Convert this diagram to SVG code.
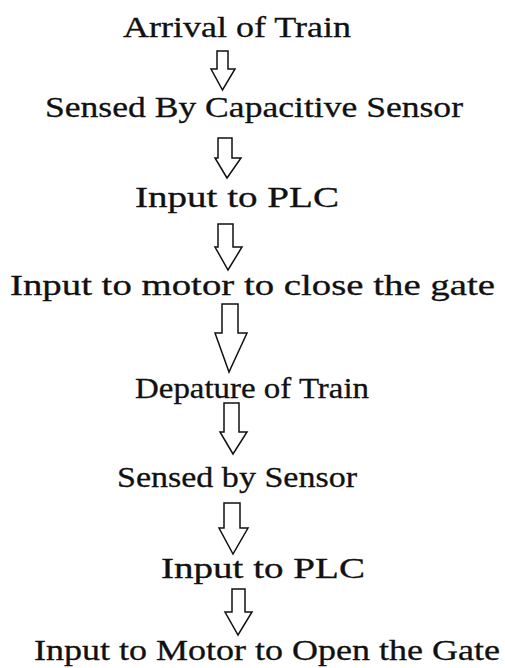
<svg xmlns="http://www.w3.org/2000/svg" width="505" height="668" viewBox="0 0 505 668">
  <style>
    .step { font-family: "Liberation Serif", "DejaVu Serif", serif; font-size: 29px; fill: #111; stroke: #111; stroke-width: 0.3; }
    .arrow { fill: none; stroke: #111; stroke-width: 1.5; stroke-linejoin: miter; }
  </style>
  <rect width="505" height="668" fill="#fff"/>

  <!-- process steps -->
  <g id="arrival"><text class="step" x="123" y="37" textLength="228" lengthAdjust="spacingAndGlyphs">Arrival of Train</text></g>
  <g id="sensed-capacitive"><text class="step" x="45" y="117" textLength="418" lengthAdjust="spacingAndGlyphs">Sensed By Capacitive Sensor</text></g>
  <g id="plc-input-1"><text class="step" x="135" y="207" textLength="204" lengthAdjust="spacingAndGlyphs">Input to PLC</text></g>
  <g id="motor-close"><text class="step" x="10" y="295" textLength="485" lengthAdjust="spacingAndGlyphs">Input to motor to close the gate</text></g>
  <g id="departure"><text class="step" x="135" y="398" textLength="234" lengthAdjust="spacingAndGlyphs">Depature of Train</text></g>
  <g id="sensed-sensor"><text class="step" x="117" y="487" textLength="240" lengthAdjust="spacingAndGlyphs">Sensed by Sensor</text></g>
  <g id="plc-input-2"><text class="step" x="161" y="578" textLength="204" lengthAdjust="spacingAndGlyphs">Input to PLC</text></g>
  <g id="motor-open"><text class="step" x="34" y="660" textLength="466" lengthAdjust="spacingAndGlyphs">Input to Motor to Open the Gate</text></g>

  <!-- block arrows between steps -->
  <g id="connectors">
    <polygon class="arrow" points="217,51 228,51 228,69 235,69 222.5,90 211,69 217,69"/>
    <polygon class="arrow" points="218,138 232,138 232,158 241,158 227,178 215,158 218,158"/>
    <polygon class="arrow" points="218,224 233,224 233,247 242,247 228,270 215,247 218,247"/>
    <polygon class="arrow" points="222,304 238,304 238,333 247,333 229,372 215,333 222,333"/>
    <polygon class="arrow" points="224,403 239,403 239,432 247,432 233,454 220,432 224,432"/>
    <polygon class="arrow" points="224,503 240,503 240,528 248,528 233,554 219,528 224,528"/>
    <polygon class="arrow" points="232,589 245,589 245,612 252,612 238,635 225,612 232,612"/>
  </g>
</svg>
